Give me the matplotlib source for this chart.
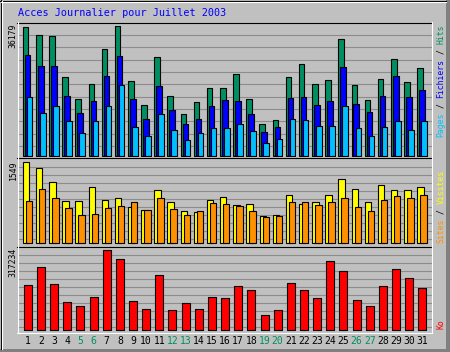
import matplotlib
matplotlib.use('Agg')
import matplotlib.pyplot as plt
from matplotlib.patches import Rectangle

# Daily stats, July 2003
days = list(range(1, 32))
weekend_days = [5, 6, 12, 13, 19, 20, 26, 27]

hits = [36000, 33667, 33386, 21932, 15785, 19976, 29670, 36179, 20814, 14025,
        27435, 16539, 11510, 14863, 18774, 18774, 22686, 15785, 8717, 9834,
        21848, 25480, 19892, 21009, 32464, 19612, 15422, 21289, 26876, 20451, 24362]
files = [28078, 25005, 25005, 16539, 11790, 15142, 22127, 27715, 15785, 10197,
         19333, 12628, 8717, 10197, 13829, 15506, 15226, 11594, 6565, 7962,
         15981, 16260, 14025, 15142, 24641, 14304, 12069, 16539, 22127, 16260, 18216]
pages = [16260, 11790, 13745, 9555, 6202, 9555, 13745, 19612, 7879, 5364,
         11510, 7040, 4247, 6202, 7599, 7599, 8717, 6845, 3408, 4526,
         10114, 9834, 8158, 8158, 13829, 7767, 5448, 7879, 9555, 7040, 9639]
visits = [1549, 1434, 1166, 809, 809, 1071, 828, 866, 694, 637,
          1019, 790, 618, 598, 828, 885, 732, 751, 522, 541,
          923, 751, 790, 923, 1229, 1038, 790, 1115, 1019, 1019, 1076]
sites = [809, 1038, 866, 675, 541, 560, 675, 713, 790, 637,
         866, 656, 541, 618, 771, 751, 713, 618, 503, 522,
         790, 790, 732, 790, 866, 694, 618, 828, 904, 866, 923]
kbytes = [177906, 249546, 181886, 110246, 94326, 130146, 317234, 281386, 114226, 82386,
          218900, 78406, 106266, 82386, 130146, 126166, 173926, 158006, 58506, 78406,
          185866, 159200, 126166, 273426, 233626, 118206, 94326, 173926, 241586, 205766, 165966]

title = 'Acces Journalier pour Juillet 2003'

GREY = '#c0c0c0'
GRID = '#8c8c8c'
C_HIT, C_FILE, C_PAGE = '#008f62', '#0000ff', '#00c0ff'
C_VISIT, C_SITE, C_KB = '#ffff00', '#ff9000', '#ff0000'
MONO = 'DejaVu Sans Mono'

W, H = 450, 352
fig = plt.figure(figsize=(W / 100, H / 100), dpi=100)
fig.patch.set_facecolor(GREY)

# background axes in pixel coordinates (frame, grid, texts)
bg = fig.add_axes([0, 0, 1, 1], zorder=0)
bg.set_xlim(0, W)
bg.set_ylim(H, 0)
bg.axis('off')

# outer bevel
bg.add_patch(Rectangle((446, 0), 4, H, color='#808080', lw=0))
bg.add_patch(Rectangle((0, 349), W, 3, color='#808080', lw=0))
bg.plot([0, 446], [0.5, 0.5], color='black', lw=0.8)
bg.plot([0.5, 0.5], [0, 349], color='black', lw=0.8)
bg.plot([1, 446], [1.5, 1.5], color='white', lw=0.8)
bg.plot([1.5, 1.5], [1, 349], color='white', lw=0.8)

X0, X1 = 18, 431


def day_px(d):
    return 14.65 + 13.15 * d


# panels: (top px, bottom px, zero px, px of max value, max value)
panels = [
    (23, 157, 155.5, 26.0, max(hits)),
    (158, 246, 243.3, 162.3, max(visits)),
    (247, 332, 330.0, 250.3, max(kbytes)),
]
grid_rows = [
    [int(22 + 12.37 * k) + 0.5 for k in range(1, 11)],
    [int(158.3 + 8 * k) + 0.5 for k in range(1, 11)],
    [int(246.3 + 8 * k) + 0.5 for k in range(1, 11)],
]
for rows in grid_rows:
    for r in rows:
        bg.plot([X0, X1], [r, r], color=GRID, lw=0.8)

# plot frame
bg.plot([17, 432], [22.5, 22.5], color='black', lw=0.8)
bg.plot([17, 432], [157.5, 157.5], color='black', lw=0.8)
bg.plot([17, 432], [246.5, 246.5], color='black', lw=0.8)
bg.plot([17.5, 17.5], [22, 333], color='white', lw=0.8)
bg.plot([431.5, 431.5], [22, 333], color='white', lw=0.8)
bg.plot([17, 432], [332.5, 332.5], color='white', lw=0.8)

axes = []
for top, bot, zero, mpx, mval in panels:
    ax = fig.add_axes([X0 / W, 1 - bot / H, (X1 - X0) / W, (bot - top) / H], zorder=1)
    ax.set_facecolor('none')
    scale = (zero - mpx) / mval
    ax.set_ylim((zero - bot) / scale, (zero - top) / scale)
    ax.set_xlim((X0 - 14.65) / 13.15, (X1 - 14.65) / 13.15)
    ax.axis('off')
    axes.append(ax)

u = 13.15
edge = dict(edgecolor='black', linewidth=0.8)
axes[0].bar([d - 2.25 / u for d in days], hits, width=5.6 / u, color=C_HIT, **edge)
axes[0].bar([d - 0.25 / u for d in days], files, width=5.6 / u, color=C_FILE, **edge)
axes[0].bar([d + 1.75 / u for d in days], pages, width=5.6 / u, color=C_PAGE, **edge)
axes[1].bar([d - 1.8 / u for d in days], visits, width=6.4 / u, color=C_VISIT, **edge)
axes[1].bar([d + 1.2 / u for d in days], sites, width=6.4 / u, color=C_SITE, **edge)
axes[2].bar(days, kbytes, width=8.0 / u, color=C_KB, **edge)

# title
bg.text(18, 13, title, color='#0000ff', fontsize=7.3, family=MONO,
        ha='left', va='center')

# max values on the left
for (top, bot, zero, mpx, mval), ytop in zip(panels, [23.5, 160, 248]):
    bg.text(13, ytop, str(mval), rotation=90, fontsize=5.85, family=MONO,
            ha='center', va='top', color='black')

# legends on the right (read bottom to top)
adv = 4.875


def vlabel(parts, y_start):
    for txt, idx, col in parts:
        bg.text(441, y_start - idx * adv, txt, rotation=90, rotation_mode='anchor',
                fontsize=5.85, family=MONO, ha='left', va='center', color=col)


vlabel([('Pages', 0, C_PAGE), ('/', 6, 'black'), ('Fichiers', 8, C_FILE),
        ('/', 17, 'black'), ('Hits', 19, C_HIT)], 137)
vlabel([('Sites', 0, C_SITE), ('/', 6, 'black'), ('Visites', 8, C_VISIT)], 243)
vlabel([('Ko', 0, C_KB)], 329)

# day labels
for d in days:
    col = C_HIT if d in weekend_days else 'black'
    bg.text(day_px(d), 341, str(d), color=col, fontsize=7, family=MONO,
            ha='center', va='center')

fig.savefig('out.png', dpi=100, facecolor=GREY)
